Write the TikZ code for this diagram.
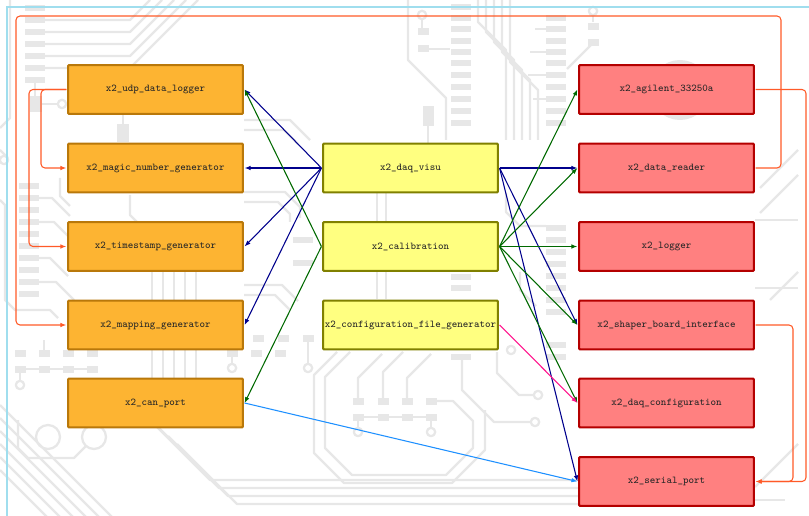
\documentclass[tikz,border=0pt]{standalone}
\usetikzlibrary{arrows.meta}

\definecolor{pcb}{RGB}{231,231,231}
\definecolor{frameblue}{RGB}{160,222,238}
\definecolor{wireorange}{RGB}{255,90,40}
\definecolor{wirenavy}{RGB}{0,0,140}
\definecolor{wiregreen}{RGB}{0,105,0}
\definecolor{wirepink}{RGB}{255,20,140}
\definecolor{wiresky}{RGB}{30,144,255}
\definecolor{orfill}{RGB}{253,180,50}
\definecolor{ordraw}{RGB}{185,120,10}
\definecolor{yefill}{RGB}{255,255,128}
\definecolor{yedraw}{RGB}{128,128,0}
\definecolor{rdfill}{RGB}{255,128,128}
\definecolor{rddraw}{RGB}{180,0,0}

% horizontal and vertical copper pads, centred on (x,y)
\newcommand\hpad[2]{\fill[pcb] (#1-10,#2-3.2) rectangle (#1+10,#2+3.2);}
\newcommand\spad[2]{\fill[pcb] (#1-5.5,#2-3.5) rectangle (#1+5.5,#2+3.5);}
\newcommand\via[2]{\draw[pcbtrace] (#1,#2) circle (4.2);}

\begin{document}
\begin{tikzpicture}[x=0.75pt,y=-0.75pt,
  pcbtrace/.style={draw=pcb,line width=1.7pt,line join=round},
  box/.style={rectangle,rounded corners=0.6pt,line width=1.5pt,
    minimum width=131pt,minimum height=36.5pt,inner sep=0pt,outer sep=1.3pt,
    font=\fontsize{7.8}{9}\selectfont\ttfamily,text=black!85},
  client/.style={box,fill=orfill,draw=ordraw},
  service/.style={box,fill=yefill,draw=yedraw},
  device/.style={box,fill=rdfill,draw=rddraw},
  wire/.style={line width=0.8pt,-{Latex[length=4.5pt,width=3.4pt]}},
  feedback/.style={wire,draw=wireorange,rounded corners=3pt},
]
\useasboundingbox (0,0) rectangle (809,516);

% ---------------- circuit board backdrop ----------------
% upper left chip
\foreach \y in {8,20,32,44,56,68,80} {\hpad{35}{\y}}
\foreach \y in {20,32,44,56,68} {\draw[pcbtrace] (45,\y) -- (130,\y) -- ++(\y,-\y);}
\draw[pcbtrace] (10,0) -- (10,118) -- (0,128);
\draw[pcbtrace] (35,80) -- (35,104) -- (58,104);
\fill[pcb] (30,96) rectangle (42,112);
\via{62}{104}
\fill[pcb] (117,124) rectangle (129,142);
\draw[pcbtrace] (123,115) -- (123,124);
\draw[pcbtrace] (0,150) -- (8,158);
\via{4}{160}
% left chip
\foreach \y in {186,198,210,222,234,246,258,270,282,294} {\hpad{29}{\y}}
\foreach \y/\e in {198/52,222/54,258/50,282/56} {\draw[pcbtrace] (39,\y) -- (\e,\y) -- ++(18,18);}
\draw[pcbtrace] (0,200) -- (5,205) -- (5,300) -- (15,310) -- (50,310) -- (58,318);
\draw[pcbtrace] (60,178) -- (60,196) -- (70,206);
% vertical bundle under the left column
\foreach \x in {152,163,174,185,196} {\draw[pcbtrace] (\x,270) -- (\x,386);}
\draw[pcbtrace] (130,195) -- (130,215) -- (150,235);
% pad rows below the left column
\foreach \x in {20,44,68,92} {\spad{\x}{353}\spad{\x}{369}}
\draw[pcbtrace] (20,369) -- (92,369);
\draw[pcbtrace] (20,369) -- (20,381); \via{20}{385}
\draw[pcbtrace] (44,340) -- (44,353); \draw[pcbtrace] (92,340) -- (92,353);
\foreach \x in {232,256,280} {\spad{\x}{353}}
\draw[pcbtrace] (232,353) -- (232,364); \via{232}{368}
\foreach \x in {258,283,308} {\spad{\x}{338}}
\draw[pcbtrace] (308,338) -- (308,364); \via{308}{368}
% gap between the left and middle columns
\draw[pcbtrace] (244,192) -- (285,192) -- (300,207) -- (300,218);
\draw[pcbtrace] (244,202) -- (278,202) -- (290,214) -- (290,222);
\hpad{303}{240} \hpad{303}{263}
\draw[pcbtrace] (244,285) -- (282,285) -- (298,301);
\draw[pcbtrace] (244,295) -- (275,295) -- (290,310);
\draw[pcbtrace] (244,120) -- (290,120) -- (310,140);
\draw[pcbtrace] (244,130) -- (284,130) -- (298,144);
% large vias lower left
\draw[pcbtrace] (48,437) circle (12);
\draw[pcbtrace] (94,437) circle (12);
\draw[pcbtrace] (86,446) -- (74,458) -- (28,458) -- (18,448) -- (18,420);
% diagonal bundle, lower left
\foreach \k in {0,1,2,3,4,5} {\draw[pcbtrace] (0,405+13*\k) -- ++(120,120);}
\foreach \k in {0,1,2,3} {\draw[pcbtrace] (150+9*\k,420+8*\k) -- (210+9*\k,480+8*\k) -- (578,480+8*\k);}
% pads and octagon, bottom middle
\foreach \x in {358,383,407,431} {\spad{\x}{401}\spad{\x}{417}}
\draw[pcbtrace] (358,417) -- (431,417);
\draw[pcbtrace] (358,417) -- (358,428); \via{358}{432}
\draw[pcbtrace] (431,417) -- (431,428); \via{431}{432}
\draw[pcbtrace] (358,401) -- (358,378) -- (382,354);
\draw[pcbtrace] (383,401) -- (383,372) -- (403,352);
\draw[pcbtrace] (407,401) -- (407,378) -- (431,354);
\draw[pcbtrace] (431,401) -- (453,401) -- (473,421) -- (473,448) -- (446,475) -- (352,475) -- (325,448) -- (325,377) -- (350,352);
\draw[pcbtrace] (337,352) -- (314,375) -- (314,453) -- (344,483) -- (452,483) -- (485,450) -- (485,410);
\hpad{461}{357}
\draw[pcbtrace] (462,360) -- (462,390) -- (494,422) -- (531,422); \via{535}{422}
\draw[pcbtrace] (497,352) -- (497,373) -- (519,395) -- (534,395); \via{538}{395}
\via{511}{350}
% top middle chips
\foreach \y in {7,18,29,41,52,63,75,87,99,111,123} {\hpad{461}{\y}}
\foreach \y in {18,29,41,52,63,75,87,99,111,123} {\hpad{556}{\y}}
\foreach \k in {0,1,2,3,4} {\draw[pcbtrace] (478+8*\k,0) -- (478+8*\k,22+10*\k) -- (506+8*\k,50+10*\k) -- (506+8*\k,140);}
\foreach \y/\e in {29/535,52/530,75/528,99/533} {\draw[pcbtrace] (546,\y) -- (\e,\y);}
\draw[pcbtrace] (408,0) -- (408,60) -- (446,98) -- (446,140);
\via{422}{15}
\draw[pcbtrace] (422,19) -- (422,28);
\spad{423}{32} \spad{423}{49}
\draw[pcbtrace] (428,49) -- (450,49);
\fill[pcb] (423,106) rectangle (434,126);
\draw[pcbtrace] (428,126) -- (428,143);
\via{593}{11}
\draw[pcbtrace] (593,15) -- (593,22);
\spad{593}{27} \spad{593}{43}
\draw[pcbtrace] (593,43) -- (567,69);
\draw[pcb,line width=4.5pt] (680,90) circle (27);
% middle gaps
\foreach \x in {377,386} {\draw[pcbtrace] (\x,193) -- (\x,299);}
\hpad{461}{277} \hpad{461}{288}
\foreach \y in {228,240,252,264,276,288,300,312,345,357} {\hpad{556}{\y}}
\draw[pcbtrace] (506,193) -- (506,212) -- (520,226) -- (546,226);
\draw[pcbtrace] (520,272) -- (520,290) -- (536,306);
% right edge
\draw[pcbtrace] (755,220) -- (798,220);
\draw[pcbtrace] (755,288) -- (798,288);
\draw[pcbtrace] (798,150) -- (760,188);
\draw[pcbtrace] (798,175) -- (760,213);
\draw[pcbtrace] (798,272) -- (770,300);
\draw[pcbtrace] (755,487) -- (798,444);
\draw[pcbtrace] (755,500) -- (785,500);

% ---------------- frame ----------------
\draw[frameblue,line width=1.2pt] (7,520) -- (7,7) -- (812,7);

% ---------------- modules ----------------
\node[client] (udp)   at (155.5,89.5) {x2\_udp\_data\_logger};
\node[client] (magic) at (155.5,168)  {x2\_magic\_number\_generator};
\node[client] (stamp) at (155.5,246.5){x2\_timestamp\_generator};
\node[client] (map)   at (155.5,325)  {x2\_mapping\_generator};
\node[client] (can)   at (155.5,403)  {x2\_can\_port};

\node[service] (visu)  at (410.5,168)  {x2\_daq\_visu};
\node[service] (calib) at (410.5,246.5){x2\_calibration};
\node[service] (cfg)   at (410.5,325)  {x2\_configuration\_file\_generator};

\node[device] (agil)   at (666.5,89.5) {x2\_agilent\_33250a};
\node[device] (reader) at (666.5,168)  {x2\_data\_reader};
\node[device] (log)    at (666.5,246.5){x2\_logger};
\node[device] (shaper) at (666.5,325)  {x2\_shaper\_board\_interface};
\node[device] (daqcfg) at (666.5,403)  {x2\_daq\_configuration};
\node[device] (serial) at (666.5,481.5){x2\_serial\_port};

% ---------------- connections ----------------
\foreach \t in {udp,magic,stamp,map} {\draw[wire,wirenavy] (visu.west) -- (\t.east);}
\draw[wire,wirenavy] (visu.east) -- (reader.west);
\draw[wire,wirenavy] (visu.east) -- (shaper.west);
\draw[wire,wirenavy] (visu.east) -- (serial.west);

\draw[wire,wiregreen] (calib.west) -- (udp.east);
\draw[wire,wiregreen] (calib.west) -- (can.east);
\foreach \t in {agil,reader,log,shaper,daqcfg} {\draw[wire,wiregreen] (calib.east) -- (\t.west);}

\draw[wire,wirepink] (cfg.east) -- (daqcfg.west);
\draw[wire,wiresky] (can.east) -- (serial.west);

\draw[feedback] (udp.west) -- (41,89.5) -- (41,168) -- (magic.west);
\draw[feedback] (udp.west) -- (29,89.5) -- (29,246.5) -- (stamp.west);
\draw[feedback] (reader.east) -- (781,168) -- (781,16) -- (16,16) -- (16,325) -- (map.west);
\draw[feedback] (agil.east) -- (806,89.5) -- (806,481.5) -- (serial.east);
\draw[feedback] (shaper.east) -- (793,325) -- (793,481.5) -- (serial.east);
\end{tikzpicture}
\end{document}
